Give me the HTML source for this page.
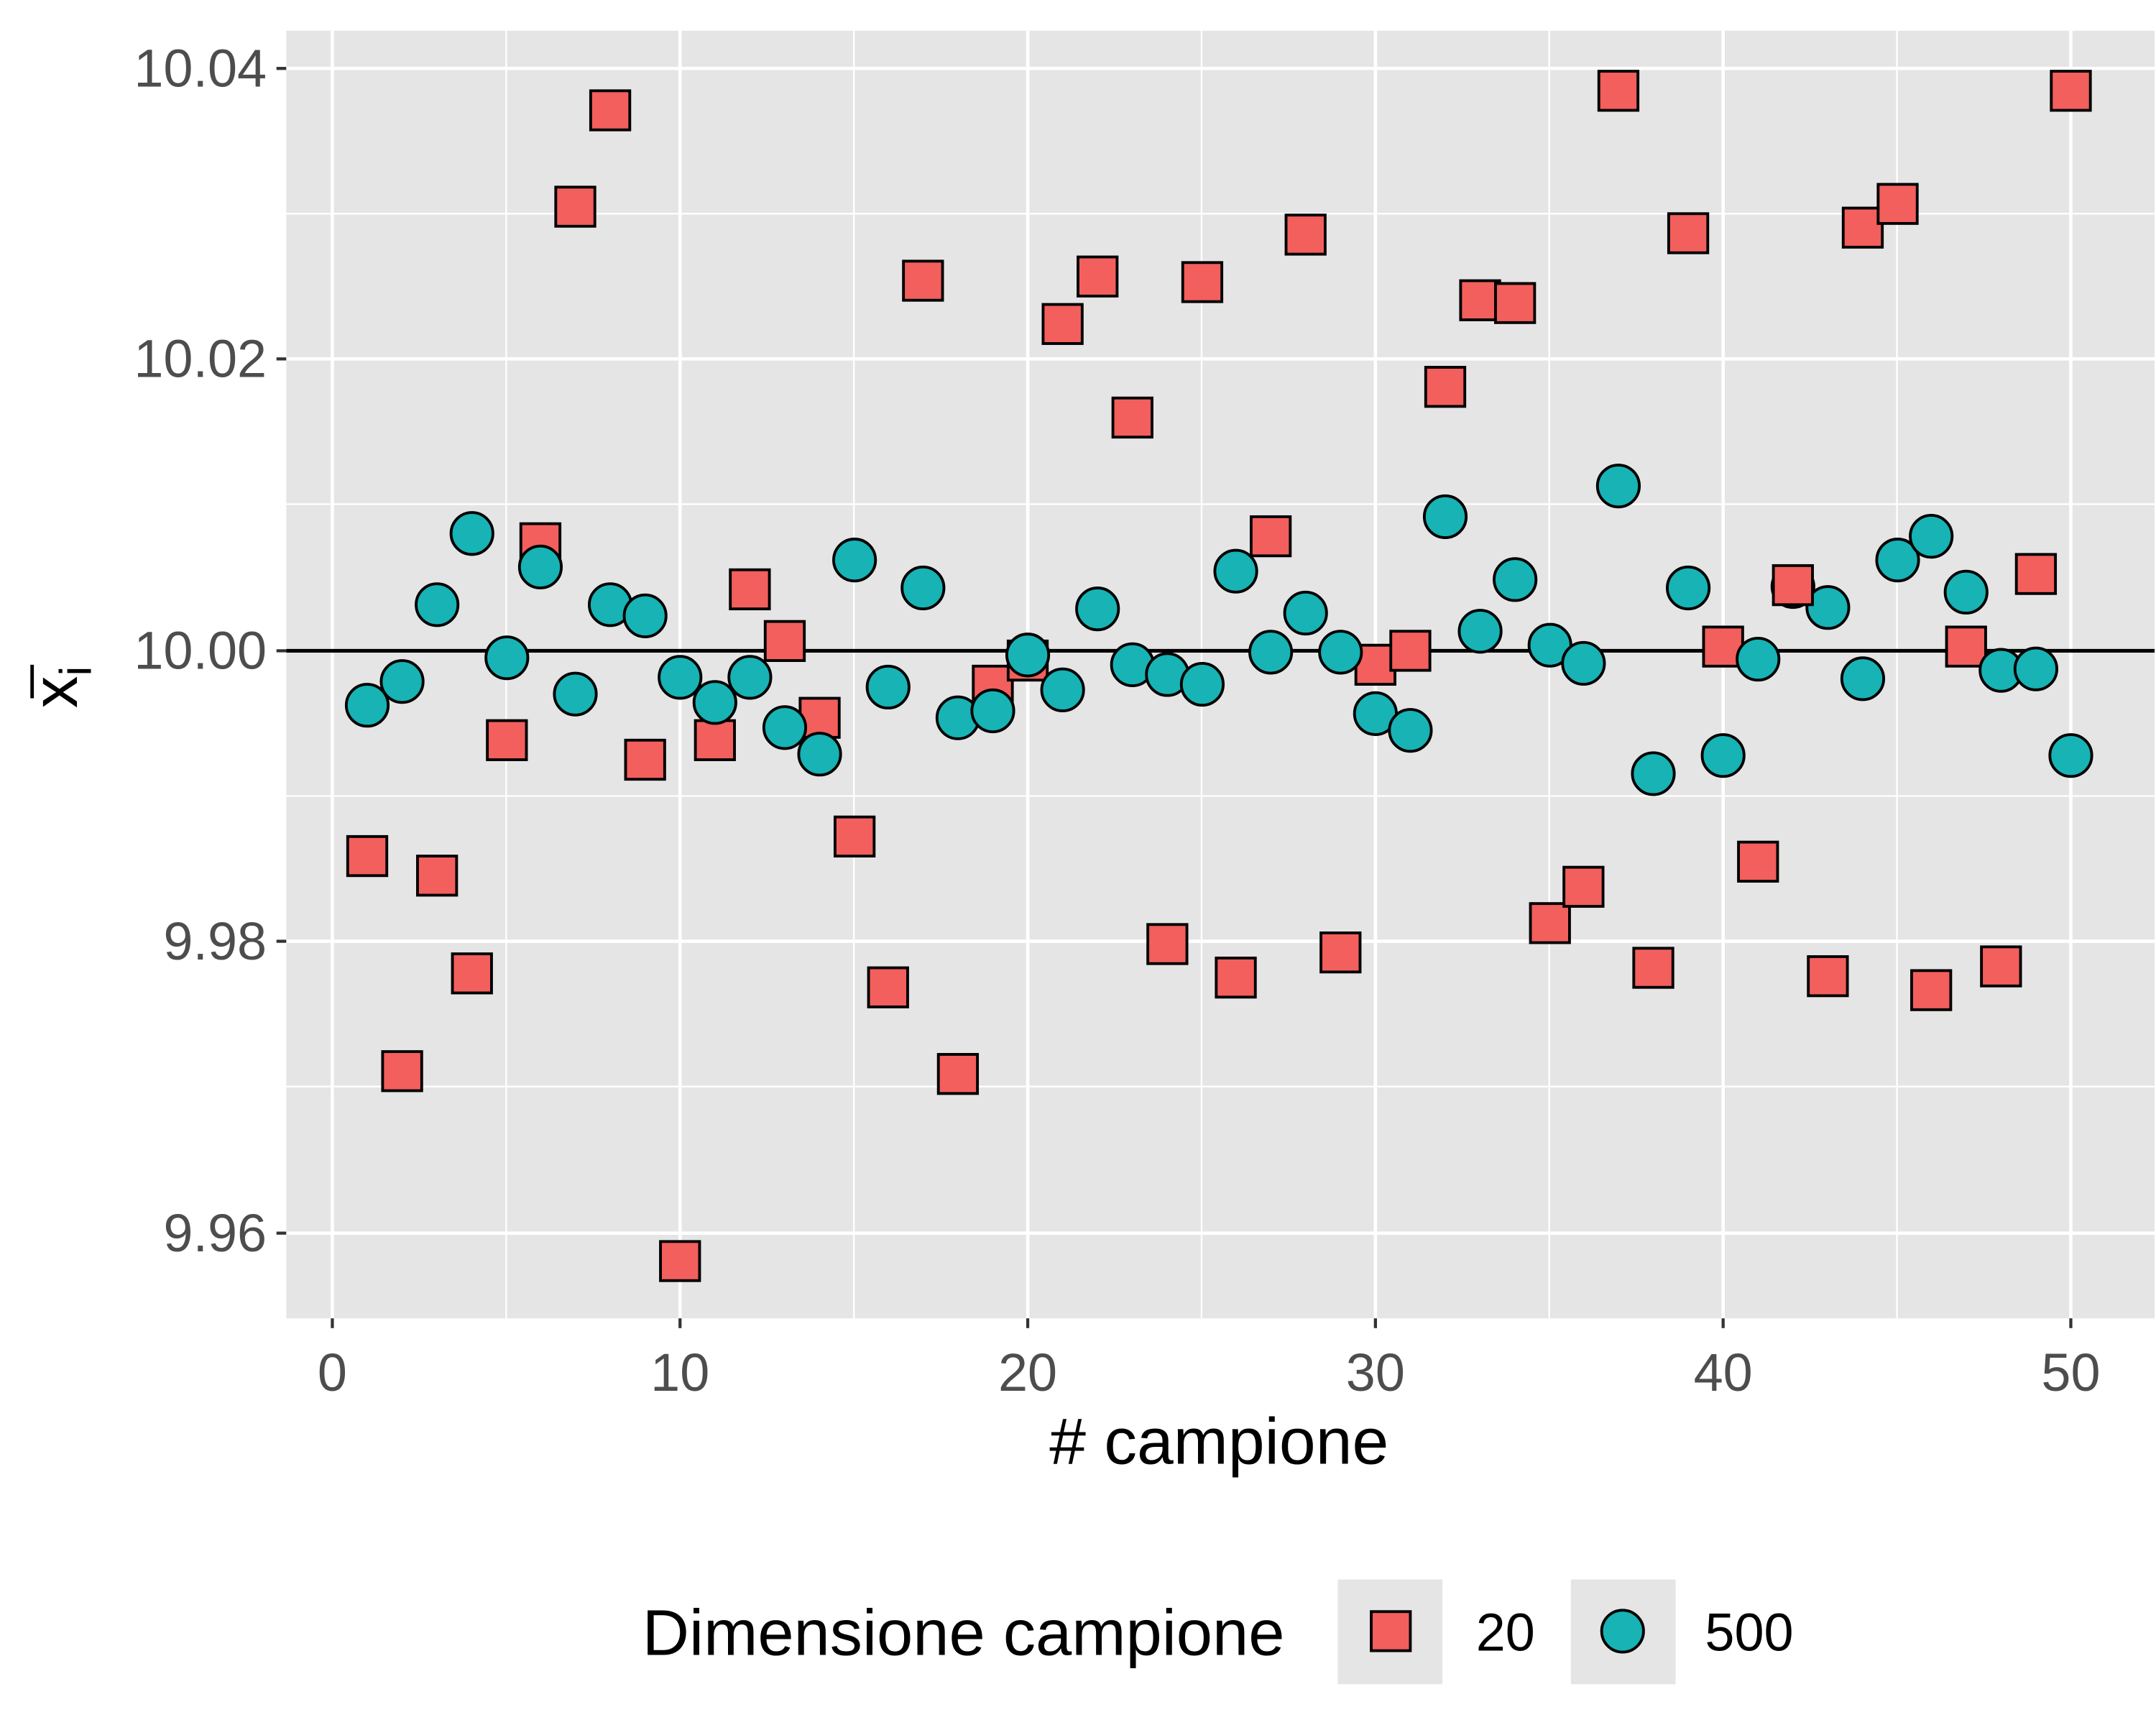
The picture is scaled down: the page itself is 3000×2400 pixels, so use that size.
<!DOCTYPE html>
<html><head><style>html,body{margin:0;padding:0;background:#fff}svg{display:block}</style></head>
<body>
<svg width="3000" height="2400" viewBox="0 0 1544 1235.2" preserveAspectRatio="none" xmlns="http://www.w3.org/2000/svg" font-family="Liberation Sans, sans-serif">
<rect x="0" y="0" width="1544" height="1236" fill="#fff"/>
<rect x="205" y="22" width="1338" height="922" fill="#e5e5e5"/>
<g stroke="#fff" stroke-width="1.2">
<line x1="205" x2="1543" y1="153" y2="153"/><line x1="205" x2="1543" y1="361" y2="361"/>
<line x1="205" x2="1543" y1="570" y2="570"/><line x1="205" x2="1543" y1="778" y2="778"/>
<line y1="22" y2="944" x1="362.5" x2="362.5"/><line y1="22" y2="944" x1="611.5" x2="611.5"/>
<line y1="22" y2="944" x1="860.5" x2="860.5"/><line y1="22" y2="944" x1="1109.5" x2="1109.5"/>
<line y1="22" y2="944" x1="1358.5" x2="1358.5"/>
</g>
<g stroke="#fff" stroke-width="2.4">
<line x1="205" x2="1543" y1="49" y2="49"/><line x1="205" x2="1543" y1="257" y2="257"/>
<line x1="205" x2="1543" y1="466" y2="466"/><line x1="205" x2="1543" y1="674" y2="674"/>
<line x1="205" x2="1543" y1="883" y2="883"/>
<line y1="22" y2="944" x1="238" x2="238"/><line y1="22" y2="944" x1="487" x2="487"/>
<line y1="22" y2="944" x1="736" x2="736"/><line y1="22" y2="944" x1="985" x2="985"/>
<line y1="22" y2="944" x1="1234" x2="1234"/><line y1="22" y2="944" x1="1483" x2="1483"/>
</g>
<line x1="205" x2="1543" y1="466" y2="466" stroke="#000" stroke-width="2.6"/>
<g stroke="#333" stroke-width="2.2">
<line x1="198" x2="205" y1="49" y2="49"/><line x1="198" x2="205" y1="257" y2="257"/>
<line x1="198" x2="205" y1="466" y2="466"/><line x1="198" x2="205" y1="674" y2="674"/>
<line x1="198" x2="205" y1="883" y2="883"/>
<line y1="944" y2="951" x1="238" x2="238"/><line y1="944" y2="951" x1="487" x2="487"/>
<line y1="944" y2="951" x1="736" x2="736"/><line y1="944" y2="951" x1="985" x2="985"/>
<line y1="944" y2="951" x1="1234" x2="1234"/><line y1="944" y2="951" x1="1483" x2="1483"/>
</g>
<g fill="#4d4d4d" font-size="38" text-anchor="end">
<text x="191" y="62">10.04</text><text x="191" y="270">10.02</text>
<text x="191" y="479">10.00</text><text x="191" y="687">9.98</text><text x="191" y="896">9.96</text>
</g>
<g fill="#4d4d4d" font-size="38" text-anchor="middle">
<text x="238" y="996">0</text><text x="487" y="996">10</text><text x="736" y="996">20</text>
<text x="985" y="996">30</text><text x="1234" y="996">40</text><text x="1483" y="996">50</text>
</g>
<text x="873" y="1048" font-size="47" text-anchor="middle" fill="#000"># campione</text>
<g transform="translate(55,492) rotate(-90)"><text x="0" y="0" font-size="46" text-anchor="middle" fill="#000">x<tspan font-size="32" dy="10">i</tspan></text></g>
<line x1="23" x2="23" y1="476" y2="500" stroke="#000" stroke-width="2.5"/>
<text x="460" y="1185" font-size="46.5" fill="#000">Dimensione campione</text>
<rect x="958" y="1131" width="75" height="75" fill="#e5e5e5"/>
<rect x="1125" y="1131" width="75" height="75" fill="#e5e5e5"/>
<rect x="982" y="1154" width="28" height="28" fill="#f25f5c" stroke="#000" stroke-width="2"/>
<circle cx="1162" cy="1168" r="15" fill="#17b3b5" stroke="#000" stroke-width="2"/>
<text x="1057" y="1182" font-size="38" fill="#000">20</text>
<text x="1221" y="1182" font-size="38" fill="#000">500</text>
<g stroke="#000" stroke-width="2" fill="#f25f5c">
<rect x="249" y="599" width="28" height="28"/><rect x="274" y="753" width="28" height="28"/>
<rect x="299" y="613" width="28" height="28"/><rect x="324" y="683" width="28" height="28"/>
<rect x="349" y="516" width="28" height="28"/><rect x="373" y="375" width="28" height="28"/>
<rect x="398" y="134" width="28" height="28"/><rect x="423" y="65" width="28" height="28"/>
<rect x="448" y="530" width="28" height="28"/><rect x="473" y="889" width="28" height="28"/>
<rect x="498" y="516" width="28" height="28"/><rect x="523" y="408" width="28" height="28"/>
<rect x="548" y="445" width="28" height="28"/><rect x="573" y="500" width="28" height="28"/>
<rect x="598" y="585" width="28" height="28"/><rect x="622" y="693" width="28" height="28"/>
<rect x="647" y="187" width="28" height="28"/><rect x="672" y="755" width="28" height="28"/>
<rect x="697" y="477" width="28" height="28"/><rect x="722" y="459" width="28" height="28"/>
<rect x="747" y="218" width="28" height="28"/><rect x="772" y="184" width="28" height="28"/>
<rect x="797" y="285" width="28" height="28"/><rect x="822" y="662" width="28" height="28"/>
<rect x="847" y="188" width="28" height="28"/><rect x="871" y="686" width="28" height="28"/>
<rect x="896" y="370" width="28" height="28"/><rect x="921" y="154" width="28" height="28"/>
<rect x="946" y="668" width="28" height="28"/><rect x="971" y="462" width="28" height="28"/>
<rect x="996" y="452" width="28" height="28"/><rect x="1021" y="263" width="28" height="28"/>
<rect x="1046" y="201" width="28" height="28"/><rect x="1071" y="203" width="28" height="28"/>
<rect x="1096" y="647" width="28" height="28"/><rect x="1120" y="621" width="28" height="28"/>
<rect x="1145" y="51" width="28" height="28"/><rect x="1170" y="679" width="28" height="28"/>
<rect x="1195" y="153" width="28" height="28"/><rect x="1220" y="449" width="28" height="28"/>
<rect x="1245" y="603" width="28" height="28"/>
<rect x="1295" y="685" width="28" height="28"/><rect x="1320" y="149" width="28" height="28"/>
<rect x="1345" y="132" width="28" height="28"/><rect x="1369" y="695" width="28" height="28"/>
<rect x="1394" y="449" width="28" height="28"/><rect x="1419" y="678" width="28" height="28"/>
<rect x="1444" y="397" width="28" height="28"/><rect x="1469" y="51" width="28" height="28"/>
</g>
<g stroke="#000" stroke-width="2" fill="#17b3b5">
<circle cx="263" cy="505" r="15"/><circle cx="288" cy="488" r="15"/><circle cx="313" cy="433" r="15"/>
<circle cx="338" cy="382" r="15"/><circle cx="363" cy="471" r="15"/><circle cx="387" cy="406" r="15"/>
<circle cx="412" cy="497" r="15"/><circle cx="437" cy="433" r="15"/><circle cx="462" cy="441" r="15"/>
<circle cx="487" cy="485" r="15"/><circle cx="512" cy="503" r="15"/><circle cx="537" cy="485" r="15"/>
<circle cx="562" cy="521" r="15"/><circle cx="587" cy="540" r="15"/><circle cx="612" cy="401" r="15"/>
<circle cx="636" cy="492" r="15"/><circle cx="661" cy="421" r="15"/><circle cx="686" cy="514" r="15"/>
<circle cx="711" cy="509" r="15"/><circle cx="736" cy="469" r="15"/><circle cx="761" cy="494" r="15"/>
<circle cx="786" cy="436" r="15"/><circle cx="811" cy="476" r="15"/><circle cx="836" cy="483" r="15"/>
<circle cx="861" cy="490" r="15"/><circle cx="885" cy="409" r="15"/><circle cx="910" cy="467" r="15"/>
<circle cx="935" cy="439" r="15"/><circle cx="960" cy="467" r="15"/><circle cx="985" cy="511" r="15"/>
<circle cx="1010" cy="523" r="15"/><circle cx="1035" cy="370" r="15"/><circle cx="1060" cy="452" r="15"/>
<circle cx="1085" cy="415" r="15"/><circle cx="1110" cy="462" r="15"/><circle cx="1134" cy="475" r="15"/>
<circle cx="1159" cy="348" r="15"/><circle cx="1184" cy="554" r="15"/><circle cx="1209" cy="421" r="15"/>
<circle cx="1234" cy="541" r="15"/><circle cx="1259" cy="472" r="15"/><circle cx="1284" cy="420" r="15"/>
<circle cx="1309" cy="435" r="15"/><circle cx="1334" cy="486" r="15"/><circle cx="1359" cy="401" r="15"/>
<circle cx="1383" cy="384" r="15"/><circle cx="1408" cy="424" r="15"/><circle cx="1433" cy="480" r="15"/>
<circle cx="1458" cy="479" r="15"/><circle cx="1483" cy="541" r="15"/>
</g>
<rect x="1270" y="405" width="28" height="28" stroke="#000" stroke-width="2" fill="#f25f5c"/>
</svg>
</body></html>
